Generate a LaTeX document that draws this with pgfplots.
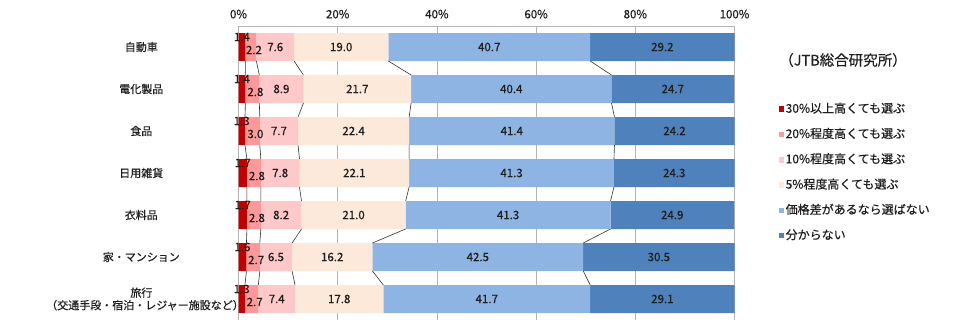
\documentclass[border=0pt]{standalone}
\usepackage{fontspec}
\setmainfont{Noto Sans CJK JP}[FakeBold=0.5]
\usepackage{pgfplots}
\pgfplotsset{compat=1.18}
\definecolor{c1}{HTML}{C00000}
\definecolor{c2}{HTML}{FF9999}
\definecolor{c3}{HTML}{FFC9C9}
\definecolor{c4}{HTML}{FDE9D9}
\definecolor{c5}{HTML}{8DB4E2}
\definecolor{c6}{HTML}{4F81BD}
\definecolor{txt}{HTML}{1E1E1E}
\definecolor{grd}{HTML}{B4B4B4}
\pgfplotsset{
  common/.style={
    at={(238.5pt,-26pt)}, anchor=north west,
    scale only axis, width=496pt, height=294pt,
    xmin=0, xmax=100, ymin=-0.5, ymax=6.5,
  },
  lab/.style={only marks, mark=*, mark size=0pt,
    mark options={draw=none, fill=none},
    nodes near coords, point meta=explicit symbolic,
    nodes near coords align={center},
    every node near coord/.append style={font=\fontsize{11.5}{12}\selectfont, text=txt, inner sep=0pt}},
  sl/.style={black!80, line width=0.6pt, unbounded coords=jump, mark=none},
}
\begin{document}
\begin{tikzpicture}
\useasboundingbox (0pt,0pt) rectangle (960pt,-333pt);
\begin{axis}[common,
  xbar stacked, bar width=28pt,
  axis line style={draw=none},
  major tick length=0pt,
  xtick={0,20,40,60,80,100},
  xticklabel pos=upper,
  xticklabel={\pgfmathprintnumber{\tick}\%},
  /pgf/number format/assume math mode=true,
  xticklabel style={font=\fontsize{11.5}{12}\selectfont, text=txt, yshift=4pt},
  xmajorgrids, grid style={grd, line width=0.7pt},
  ytick={0,1,2,3,4,5,6},
  yticklabels={{旅行\\（交通手段・宿泊・レジャー施設など）},家・マンション,衣料品,日用雑貨,食品,電化製品,自動車},
  yticklabel style={font=\fontsize{11}{12.5}\selectfont, text=txt, anchor=east, text width=190pt, align=center, inner sep=0pt, xshift=-2pt},
  legend style={at={(axis description cs:1,1)}, anchor=north west, xshift=41pt, yshift=-74pt,
    draw=none, fill=none, font=\fontsize{12}{12}\selectfont, text=txt, row sep=10.8pt,
    nodes={inner sep=1.5pt, text height=9pt, text depth=2.5pt}},
  legend cell align=left,
  legend image code/.code={\fill[#1] (0pt,-2.5pt) rectangle (5.5pt,3pt);},
  after end axis/.code={\draw[grd, line width=0.8pt] (axis description cs:0,1) -- (axis description cs:1,1);},
]
\addplot[fill=c1, draw=none] coordinates {(1.4,6) (1.4,5) (1.3,4) (1.7,3) (1.7,2) (1.6,1) (1.3,0)};
\addplot[fill=c2, draw=none] coordinates {(2.2,6) (2.8,5) (3.0,4) (2.8,3) (2.8,2) (2.7,1) (2.7,0)};
\addplot[fill=c3, draw=none] coordinates {(7.6,6) (8.9,5) (7.7,4) (7.8,3) (8.2,2) (6.5,1) (7.4,0)};
\addplot[fill=c4, draw=none] coordinates {(19.0,6) (21.7,5) (22.4,4) (22.1,3) (21.0,2) (16.2,1) (17.8,0)};
\addplot[fill=c5, draw=none] coordinates {(40.7,6) (40.4,5) (41.4,4) (41.3,3) (41.3,2) (42.5,1) (41.7,0)};
\addplot[fill=c6, draw=none] coordinates {(29.2,6) (24.7,5) (24.2,4) (24.3,3) (24.9,2) (30.5,1) (29.1,0)};
\legend{30\%以上高くても選ぶ,20\%程度高くても選ぶ,10\%程度高くても選ぶ,5\%程度高くても選ぶ,価格差があるなら選ばない,分からない}
\end{axis}
\begin{axis}[common, hide axis, clip=false]
% series lines between bars (cumulative boundaries)
\addplot[sl] coordinates {(1.4,5.667) (1.4,5.333) (nan,nan) (1.4,4.667) (1.3,4.333) (nan,nan) (1.3,3.667) (1.7,3.333) (nan,nan) (1.7,2.667) (1.7,2.333) (nan,nan) (1.7,1.667) (1.6,1.333) (nan,nan) (1.6,0.667) (1.3,0.333)};
\addplot[sl] coordinates {(3.6,5.667) (4.2,5.333) (nan,nan) (4.2,4.667) (4.3,4.333) (nan,nan) (4.3,3.667) (4.5,3.333) (nan,nan) (4.5,2.667) (4.5,2.333) (nan,nan) (4.5,1.667) (4.3,1.333) (nan,nan) (4.3,0.667) (4.0,0.333)};
\addplot[sl] coordinates {(11.2,5.667) (13.1,5.333) (nan,nan) (13.1,4.667) (12.0,4.333) (nan,nan) (12.0,3.667) (12.3,3.333) (nan,nan) (12.3,2.667) (12.7,2.333) (nan,nan) (12.7,1.667) (10.8,1.333) (nan,nan) (10.8,0.667) (11.4,0.333)};
\addplot[sl] coordinates {(30.2,5.667) (34.8,5.333) (nan,nan) (34.8,4.667) (34.4,4.333) (nan,nan) (34.4,3.667) (34.4,3.333) (nan,nan) (34.4,2.667) (33.7,2.333) (nan,nan) (33.7,1.667) (27.0,1.333) (nan,nan) (27.0,0.667) (29.2,0.333)};
\addplot[sl] coordinates {(70.9,5.667) (75.2,5.333) (nan,nan) (75.2,4.667) (75.8,4.333) (nan,nan) (75.8,3.667) (75.7,3.333) (nan,nan) (75.7,2.667) (75.0,2.333) (nan,nan) (75.0,1.667) (69.5,1.333) (nan,nan) (69.5,0.667) (70.9,0.333)};
% data labels
\addplot[lab, every node near coord/.append style={yshift=10pt}] table[meta=l] {
x y l
0.7 6 1.4
0.7 5 1.4
0.65 4 1.3
0.85 3 1.7
0.85 2 1.7
0.8 1 1.6
0.65 0 1.3
};
\addplot[lab, every node near coord/.append style={xshift=3pt, yshift=-3pt}] table[meta=l] {
x y l
2.5 6 2.2
2.8 5 2.8
2.8 4 3.0
3.1 3 2.8
3.1 2 2.8
2.95 1 2.7
2.65 0 2.7
};
\addplot[lab] table[meta=l] {
x y l
7.4 6 7.6
8.65 5 8.9
8.15 4 7.7
8.4 3 7.8
8.6 2 8.2
7.55 1 6.5
7.7 0 7.4
};
\addplot[lab] table[meta=l] {
x y l
20.7 6 19.0
23.95 5 21.7
23.2 4 22.4
23.35 3 22.1
23.2 2 21.0
18.9 1 16.2
20.3 0 17.8
};
\addplot[lab] table[meta=l] {
x y l
50.55 6 40.7
55.0 5 40.4
55.1 4 41.4
55.05 3 41.3
54.35 2 41.3
48.25 1 42.5
50.05 0 41.7
};
\addplot[lab] table[meta=l] {
x y l
85.45 6 29.2
87.55 5 24.7
87.9 4 24.2
87.85 3 24.3
87.45 2 24.9
84.75 1 30.5
85.45 0 29.1
};
\end{axis}
\node[font=\fontsize{14.5}{15}\selectfont, text=txt] at (843pt,-60pt) {（JTB総合研究所）};
\end{tikzpicture}
\end{document}
